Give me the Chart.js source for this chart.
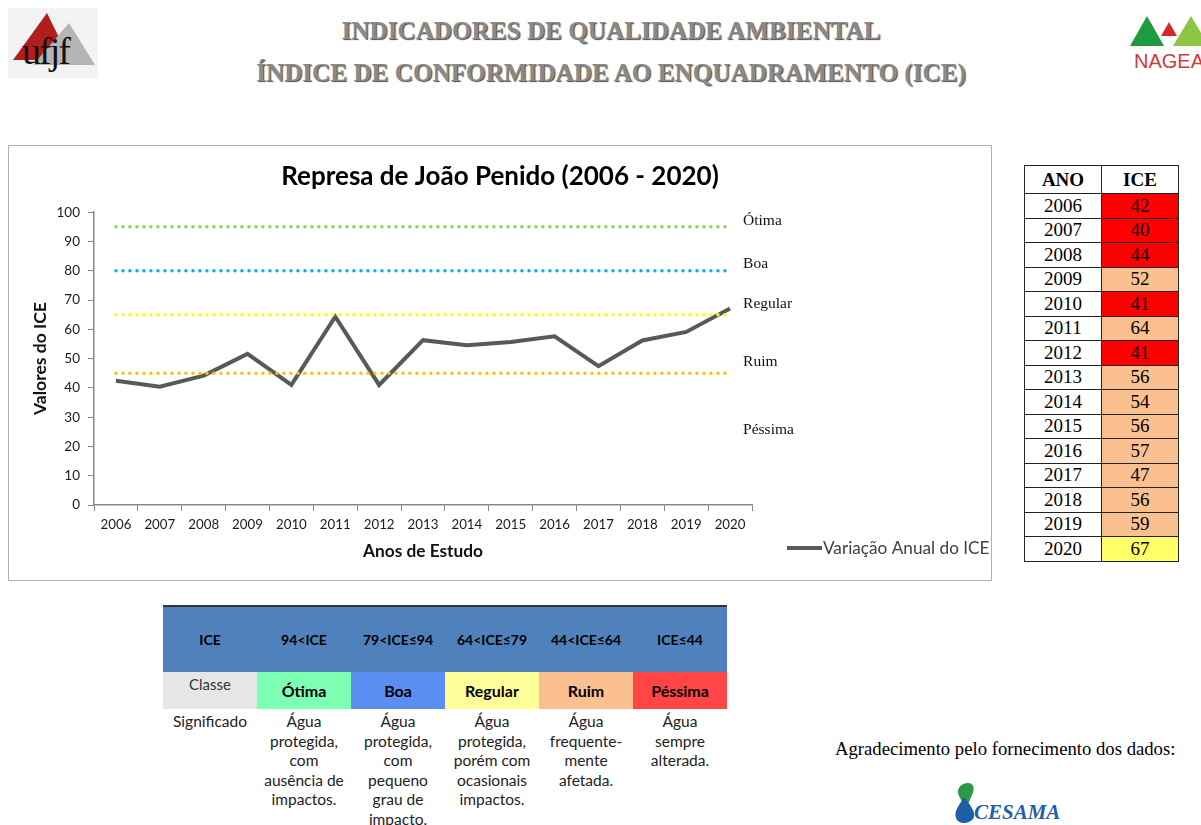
<!DOCTYPE html>
<html>
<head>
<meta charset="utf-8">
<script src="https://cdn.jsdelivr.net/npm/chart.js@4.4.1/dist/chart.umd.min.js"></script>
<style>
  body { margin: 0; width: 1201px; height: 825px; overflow: hidden; background: #fff; position: relative; font-family: Lato, sans-serif; }
  .cab { position: absolute; left: 0; width: 1222px; text-align: center; font-family: "Liberation Serif", serif; font-weight: bold;
         font-size: 25.2px; line-height: 30px; color: #8a8a8a; text-shadow: 1px 1px 1px #4a4a4a; white-space: nowrap; }
  #caixa { position: absolute; left: 8px; top: 145px; width: 984px; height: 436px; border: 1px solid #b0b0b0; box-sizing: border-box; }
  #anoIce { position: absolute; left: 1024px; top: 165px; width: 152px; border-collapse: collapse; font-family: "Liberation Serif", serif; font-size: 19px; table-layout: fixed; }
  #anoIce td, #anoIce th { width: 76px; border: 1px solid #222; padding: 0; text-align: center; height: 23.5px; line-height: 22px; }
  #anoIce th { height: 27px; }
  #classes { position: absolute; left: 163px; top: 605px; width: 564px; border-collapse: collapse; font-family: Lato, sans-serif; font-size: 15.5px; table-layout: fixed; }
  #classes td { width: 94px; padding: 0; text-align: center; vertical-align: middle; }
  #classes tr.h td { background: #4F81BD; height: 65px; font-weight: bold; font-size: 14px; border-top: 2px solid #333; }
  #classes tr.c td { height: 34px; font-weight: bold; font-size: 16px; }
  #classes tr.s td { vertical-align: top; line-height: 19.5px; padding: 3px 7px 0 7px; color: #222; }
  .agr { position: absolute; left: 835px; top: 738px; font-family: "Liberation Serif", serif; font-size: 18.7px; white-space: nowrap; }
</style>
</head>
<body>
<div class="cab" style="top:16px">INDICADORES DE QUALIDADE AMBIENTAL</div>
<div class="cab" style="top:58px">ÍNDICE DE CONFORMIDADE AO ENQUADRAMENTO (ICE)</div>

<svg style="position:absolute;left:8px;top:8px" width="90" height="70">
  <rect x="0" y="0" width="90" height="70" fill="#f3f3f3"/>
  <polygon points="5,52 39,5 62,52" fill="#b01e1e"/>
  <polygon points="25,57 61,15 87,57" fill="#b5b5b5"/>
  <text x="14" y="56" font-family="Liberation Serif" font-size="38" letter-spacing="-2" fill="#111">ufjf</text>
</svg>

<svg style="position:absolute;left:1126px;top:10px" width="75" height="65">
  <polygon points="4,36 21,6 38,36" fill="#1d9b3e"/>
  <polygon points="35,26 43,12 51,26" fill="#d22a2a"/>
  <polygon points="47,36 65,6 83,36" fill="#8dc640"/>
  <text x="8" y="58" font-family="Liberation Sans" font-size="20" fill="#d03a3a">NAGEA</text>
</svg>

<div id="caixa"><canvas id="grafico" width="982" height="434"></canvas></div>

<table id="anoIce"><thead><tr><th>ANO</th><th>ICE</th></tr></thead><tbody id="corpo"></tbody></table>

<table id="classes">
  <tr class="h"><td>ICE</td><td>94&lt;ICE</td><td>79&lt;ICE≤94</td><td>64&lt;ICE≤79</td><td>44&lt;ICE≤64</td><td>ICE≤44</td></tr>
  <tr class="c">
    <td style="background:#e6e6e6;font-weight:normal;font-size:15px;vertical-align:top;padding-top:3px;color:#333">Classe</td>
    <td style="background:#7dffb4">Ótima</td>
    <td style="background:#5a8ef0">Boa</td>
    <td style="background:#ffff99">Regular</td>
    <td style="background:#fac090">Ruim</td>
    <td style="background:#ff4545">Péssima</td>
  </tr>
  <tr class="s">
    <td style="padding:3px 0 0 0">Significado</td>
    <td>Água protegida, com ausência de impactos.</td>
    <td>Água protegida, com pequeno grau de impacto.</td>
    <td>Água protegida, porém com ocasionais impactos.</td>
    <td>Água frequente-<br>mente afetada.</td>
    <td>Água<br>sempre alterada.</td>
  </tr>
</table>

<div class="agr">Agradecimento pelo fornecimento dos dados:</div>
<svg style="position:absolute;left:952px;top:781px" width="130" height="44">
  <path d="M16,2 C8,2 4,9 7,15 L14,28 L20,14 C23,8 22,2 16,2 Z" fill="#2a9a46"/>
  <path d="M12,16 C6,26 2,30 4,37 C6,43 16,44 21,38 C24,34 22,28 12,16 Z" fill="#1f5fa8"/>
  <text x="22" y="38" font-family="Liberation Sans Narrow" font-weight="bold" font-style="italic" font-size="21" fill="#1f5fa8">CESAMA</text>
</svg>

<script>
// dados
const anos = ['2006', '2007', '2008', '2009', '2010', '2011', '2012', '2013', '2014', '2015', '2016', '2017', '2018', '2019', '2020'];
const iceLinha = [42.4, 40.4, 44.2, 51.6, 41, 64.3, 41, 56.3, 54.6, 55.7, 57.6, 47.4, 56.2, 59.1, 67.1];
const iceTabela = [42, 40, 44, 52, 41, 64, 41, 56, 54, 56, 57, 47, 56, 59, 67];
const limites = [95, 80, 65, 45];
const coresLimites = ['#92D050', '#00B0F0', '#FFFF00', '#FFC000'];
const classes = ['Ótima', 'Boa', 'Regular', 'Ruim', 'Péssima'];
const niveisClasses = [97, 82.3, 68.6, 49, 25.6];

// tabela ANO / ICE
const corpo = document.getElementById('corpo');
anos.forEach((a, i) => {
  const v = iceTabela[i];
  const cor = v <= 44 ? '#ff0000' : v <= 64 ? '#fac090' : v <= 79 ? '#ffff66' : '#5a8ef0';
  corpo.insertAdjacentHTML('beforeend', `<tr><td>${a}</td><td style="background:${cor}">${v}</td></tr>`);
});

const rotulos = {
  id: 'rotulos',
  afterDraw(chart) {
    const { ctx, scales: { x, y }, chartArea } = chart;
    const px = x.getPixelForValue(anos.length - 1) + 13;
    ctx.save();
    ctx.font = '15.5px "Liberation Serif"';
    ctx.fillStyle = '#111';
    ctx.textBaseline = 'middle';
    classes.forEach((c, i) => ctx.fillText(c, px, y.getPixelForValue(niveisClasses[i])));
    // legenda
    const ly = chart.height - 32;
    ctx.strokeStyle = '#595959';
    ctx.lineWidth = 4;
    ctx.beginPath();
    ctx.moveTo(chartArea.right + 35, ly);
    ctx.lineTo(chartArea.right + 70, ly);
    ctx.stroke();
    ctx.font = '17.2px Lato';
    ctx.fillStyle = '#404040';
    ctx.fillText('Variação Anual do ICE', chartArea.right + 71, ly);
    ctx.restore();
  }
};

const conjuntos = [{
  label: 'Variação Anual do ICE',
  data: iceLinha,
  borderColor: '#595959',
  borderWidth: 4,
  pointRadius: 0,
  tension: 0,
  order: 1
}];
limites.forEach((l, i) => conjuntos.push({
  label: classes[i],
  data: [{ x: anos[0], y: l }, { x: anos[anos.length - 1], y: l }],
  borderColor: coresLimites[i],
  borderWidth: 3.5,
  borderDash: [0, 7],
  borderCapStyle: 'round',
  pointRadius: 0,
  order: 0
}));

new Chart(document.getElementById('grafico'), {
  type: 'line',
  data: { labels: anos, datasets: conjuntos },
  plugins: [rotulos],
  options: {
    responsive: false,
    animation: false,
    layout: { padding: 0 },
    plugins: {
      legend: { display: false },
      tooltip: { enabled: false },
      title: {
        display: true,
        text: 'Represa de João Penido (2006 - 2020)',
        color: '#000',
        font: { family: 'Lato', size: 26, weight: 'bold' },
        padding: { top: 15, bottom: 20 }
      }
    },
    scales: {
      x: {
        offset: true,
        grid: { offset: true, drawOnChartArea: false, tickLength: 6, color: '#888' },
        border: { color: '#888', width: 1.5 },
        ticks: { color: '#1a1a1a', padding: 6, font: { family: 'Lato', size: 13.3 } },
        title: { display: true, text: 'Anos de Estudo', color: '#111', font: { family: 'Lato', size: 17.3, weight: 'bold' }, padding: { top: 0, bottom: 18.5 } },
        afterFit: s => { s.height = 75; }
      },
      y: {
        min: 0, max: 100,
        grid: { drawOnChartArea: false, tickLength: 6, color: '#888' },
        border: { color: '#888', width: 1.5 },
        ticks: { stepSize: 10, color: '#1a1a1a', padding: 8, font: { family: 'Lato', size: 13.5 } },
        title: { display: true, text: 'Valores do ICE', color: '#111', font: { family: 'Lato', size: 17.5, weight: 'bold' }, padding: { top: 20.5, bottom: 0 } },
        afterFit: s => { s.width = 85; }
      },
      y2: {
        position: 'right',
        grid: { display: false },
        border: { display: false },
        ticks: { display: false },
        afterFit: s => { s.width = 239; }
      }
    }
  }
});
</script>
</body>
</html>
